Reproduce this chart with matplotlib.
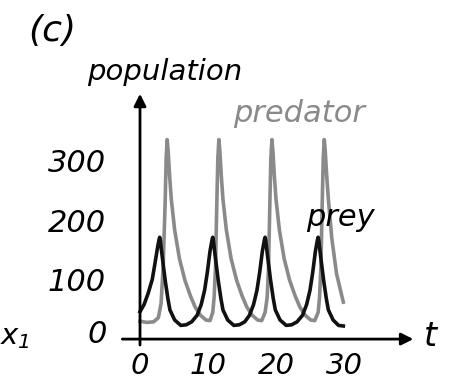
import numpy as np
import matplotlib
matplotlib.use("Agg")
import matplotlib.pyplot as plt

# values
t_prey = [0.0, 0.6, 1.2, 1.8, 2.2, 2.6, 2.8, 2.9, 3.0, 3.2, 3.7, 4.1, 4.4, 5.1, 6.0, 6.8, 7.6, 8.4, 9.0, 9.5, 9.9, 10.3,
          10.6, 10.7, 10.8, 11.0, 11.5, 11.9, 12.2, 12.9, 13.8, 14.6, 15.4, 16.1, 16.7, 17.2, 17.6, 18.0,
          18.3, 18.4, 18.5, 18.7, 19.2, 19.6, 19.9, 20.6, 21.5, 22.3, 23.1, 23.9, 24.5, 25.0, 25.4, 25.8,
          26.1, 26.2, 26.3, 26.5, 27.0, 27.4, 27.7, 28.4, 29.2, 29.9]
prey = [46, 58, 77, 100, 127, 155, 167, 171, 165, 145, 99, 68, 49, 32, 23, 24, 29, 40, 58, 82, 112, 148,
        167, 171, 165, 145, 99, 68, 49, 32, 23, 24, 29, 40, 58, 82, 112, 148,
        167, 171, 165, 145, 99, 68, 49, 32, 23, 24, 29, 40, 58, 82, 112, 148,
        167, 171, 165, 145, 99, 68, 49, 32, 23, 22]

t_pred = [0.0, 1.0, 2.0, 2.7, 3.1, 3.4, 3.7, 3.85, 4.0, 4.15, 4.35, 4.6, 5.1, 5.8, 6.6, 7.4, 8.1, 8.9, 9.7, 10.3,
          10.7, 10.9, 11.1, 11.3, 11.45, 11.6, 11.75, 11.95, 12.2, 12.7, 13.4, 14.2, 15.0, 15.7, 16.5, 17.3, 17.9,
          18.4, 18.7, 18.9, 19.1, 19.25, 19.4, 19.55, 19.75, 20.0, 20.5, 21.2, 22.0, 22.8, 23.5, 24.3, 25.1, 25.7,
          26.2, 26.4, 26.6, 26.8, 26.95, 27.1, 27.25, 27.45, 27.7, 28.2, 28.9, 29.9]
predator = [30, 28, 29, 36, 60, 120, 230, 305, 335, 315, 275, 235, 183, 135, 99, 73, 54, 40, 32, 31,
            45, 70, 120, 230, 305, 335, 315, 275, 235, 183, 135, 99, 73, 54, 40, 32, 31,
            45, 70, 120, 230, 305, 335, 315, 275, 235, 183, 135, 99, 73, 54, 40, 32, 31,
            45, 70, 120, 230, 305, 335, 315, 275, 235, 170, 110, 62]

x_ticks = [0, 10, 20, 30]
y_ticks = [100, 200, 300]

plt.rcParams['font.family'] = ['DejaVu Sans']
plt.rcParams['font.style'] = 'italic'

W, H = 456, 380
fig = plt.figure(figsize=(W / 100, H / 100), dpi=100)
ax = fig.add_axes([119.6 / W, 1 - 351 / H, 299.2 / W, 262 / H])
ax.set_xlim(-3, 41)
ax.set_ylim(-20, 420)

ax.plot(t_pred, predator, color='#8a8a8a', lw=2.6, solid_joinstyle='round')
ax.plot(t_prey, prey, color='#111111', lw=2.6, solid_joinstyle='round')

# axes drawn as arrows
arrow = dict(arrowstyle='-|>', lw=2.0, color='black', mutation_scale=18, shrinkA=0, shrinkB=0)
ax.annotate('', xy=(40.2, 0), xytext=(-2.6, 0), arrowprops=arrow, annotation_clip=False)
ax.annotate('', xy=(0, 412), xytext=(0, -10), arrowprops=arrow, annotation_clip=False)

for s in ax.spines.values():
    s.set_visible(False)
ax.set_xticks(x_ticks)
ax.set_xticklabels([str(v) for v in x_ticks], fontsize=21)
ax.set_yticks(y_ticks)
ax.set_yticklabels([str(v) for v in y_ticks], fontsize=22)
ax.tick_params(length=0)
ax.tick_params(axis='y', pad=10)
ax.tick_params(axis='x', pad=1)
ax.text(-4.9, 8, '0', fontsize=22, ha='right', va='center')

def ftext(x, y, s, **kw):
    fig.text(x / W, 1 - y / H, s, **kw)

ftext(52, 31, '(c)', fontsize=26, ha='center', va='center')
ftext(165, 72, 'population', fontsize=21, ha='center', va='center')
ftext(299, 113, 'predator', fontsize=22, ha='center', va='center', color='#8a8a8a')
ftext(340, 218, 'prey', fontsize=22, ha='center', va='center')
ftext(430, 336, 't', fontsize=24, ha='center', va='center')
ftext(0, 337, '$x_1$', fontsize=21, ha='left', va='center')

fig.savefig('out.png', dpi=100)
